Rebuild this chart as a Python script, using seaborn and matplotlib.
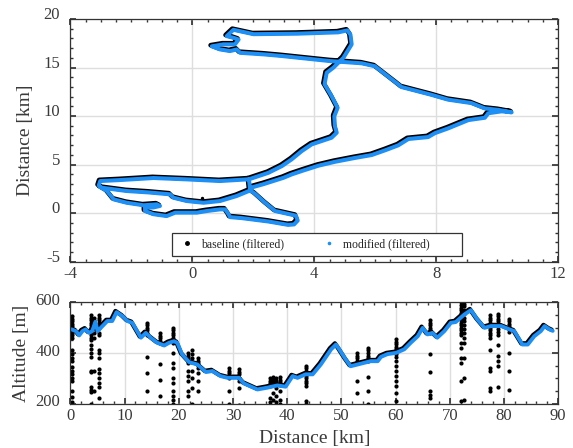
"""
GPS track and altitude profile: baseline vs modified (filtered)
"""
#------------------------------------------------------------------------------
# Libraries
#------------------------------------------------------------------------------

import seaborn as sns
import matplotlib.pyplot as plt
import matplotlib.transforms as mtransforms
from matplotlib.lines import Line2D
from matplotlib.ticker import MultipleLocator

#------------------------------------------------------------------------------
# Data
#------------------------------------------------------------------------------

# track, km east / km north
track_x = [-3.06, -2.84, -2.62, -2.19, -1.64, -1.20, -1.10, -1.31, -1.59, -1.59,
           -1.31, -0.88, -0.60, -0.22, 0.11, 0.44, 0.87, 1.04, 1.15, 1.20,
           1.58, 2.46, 3.11, 3.30, 3.42, 3.36, 2.68, 2.35, 2.02, 1.86,
           1.90, 2.30, 2.62, 2.95, 3.22, 3.60, 4.10, 4.64, 5.30, 5.85,
           6.30, 6.72, 7.05, 7.70, 7.92, 8.36, 9.02, 9.56, 9.67, 10.11,
           10.44, 10.00, 9.56, 9.12, 8.36, 7.81, 6.83, 6.67, 5.95, 5.52,
           4.48, 2.90, 2.30, 1.53, 1.42, 1.20, 0.87, 0.60, 0.98, 1.36,
           1.48, 1.31, 1.09, 1.31, 1.97, 3.39, 4.75, 5.05, 5.15, 5.19,
           4.92, 4.59, 4.37, 4.30, 4.53, 4.73, 4.62, 4.64, 4.70, 4.53,
           3.88, 3.55, 3.22, 2.90, 2.46, 1.82, 1.86, 1.42, 0.87, 0.33,
           -0.22, -0.66, -0.77, -1.50, -2.19, -3.01, -3.11, -3.06, -2.41, -1.31,
           -0.22, 0.87, 1.82]
track_y = [2.80, 2.39, 1.53, 1.18, 0.92, 1.02, 0.85, 0.70, 0.67, 0.33,
           0.00, -0.19, 0.16, 0.16, 0.16, 0.33, 0.50, 0.50, 0.00, -0.30,
           -0.40, -0.75, -1.10, -1.05, -0.65, -0.15, 0.33, 1.18, 2.11, 2.45,
           2.75, 3.10, 3.42, 3.75, 4.10, 4.50, 5.00, 5.40, 5.80, 6.10,
           6.60, 7.10, 7.75, 7.95, 8.35, 8.85, 9.70, 9.94, 10.40, 10.60,
           10.50, 10.75, 10.90, 11.45, 11.80, 12.30, 13.10, 13.50, 15.25, 15.55,
           15.78, 16.30, 16.47, 16.63, 16.98, 16.81, 16.98, 17.30, 17.50, 17.50,
           18.00, 18.18, 18.35, 19.00, 18.55, 18.60, 18.74, 18.94, 18.50, 17.50,
           16.12, 15.10, 14.57, 13.40, 12.17, 10.97, 10.10, 9.08, 8.40, 7.88,
           7.20, 6.50, 5.65, 4.96, 4.27, 3.60, 2.45, 1.88, 1.36, 1.18,
           1.36, 1.70, 2.05, 2.25, 2.39, 2.73, 2.95, 3.42, 3.52, 3.73,
           3.59, 3.42, 3.60]

# stray baseline fix in the track
stray_x = [0.33]
stray_y = [1.53]

# altitude profile
profile_km = [0.0, 0.8, 1.4, 2.0, 2.6, 3.2, 3.8, 4.4, 4.8, 5.7, 6.6, 7.5, 8.3,
              9.4, 10.3, 11.2, 12.8, 13.7, 14.6, 15.8, 17.1, 18.0, 18.9, 19.5,
              20.4, 21.7, 23.2, 24.8, 26.0, 27.5, 28.8, 30.0, 30.9, 31.8, 34.3,
              36.1, 38.0, 39.5, 40.8, 41.7, 43.2, 44.5, 46.0, 47.9, 48.8, 49.4,
              50.6, 51.5, 52.8, 55.2, 56.5, 57.1, 58.3, 59.9, 61.4, 62.6, 63.9,
              64.8, 65.7, 66.6, 67.5, 68.8, 70.0, 70.9, 72.5, 73.7, 74.9, 76.2,
              77.4, 79.3, 80.8, 81.7, 83.2, 84.2, 85.4, 86.6, 87.3, 88.2, 88.8]
profile_alt = [498, 491, 474, 491, 498, 484, 491, 528, 491, 511, 531, 531, 566,
               550, 531, 524, 465, 484, 465, 445, 434, 445, 451, 445,
               399, 368, 359, 329, 333, 313, 306, 306, 306, 284, 260,
               267, 276, 271, 313, 306, 320, 320, 359, 419, 438, 419,
               379, 352, 359, 372, 372, 389, 400, 405, 419, 445, 471,
               504, 478, 484, 465, 491, 524, 527, 557, 574, 537, 504,
               511, 511, 498, 491, 438, 438, 471, 491, 511, 498, 492]

# baseline outliers: vertical streaks (km) and their altitudes (m)
streak_km = [0.3, 3.8, 4.4, 5.3, 14.1, 16.6, 18.9, 21.6, 22.4, 23.5, 29.3,
             31.1, 36.8, 37.4, 38.0, 38.7, 43.4, 52.8, 54.9, 60.0, 66.4,
             72.1, 72.6, 77.5, 78.9, 81.0]
streak_alt = [
    [545, 535, 525, 515, 505, 490, 480, 470, 460, 410, 395, 380, 370, 345,
     330, 315, 300, 290, 250, 225, 205],
    [550, 540, 530, 520, 510, 500, 490, 480, 470, 460, 450, 430, 415, 400,
     385, 330, 325, 265, 255, 245, 200],
    [540, 520, 500, 480, 460, 330, 250],
    [550, 540, 530, 520, 510, 500, 480, 470, 410, 400, 380, 335, 320, 300,
     280, 265, 220],
    [520, 510, 500, 490, 480, 470, 385, 320, 248],
    [478, 468, 458, 448, 440, 355, 295, 228],
    [500, 490, 480, 470, 460, 450, 440, 400, 360, 340, 300, 280, 250, 230,
     215, 200],
    [400, 390, 380, 370, 360, 330, 310, 290, 250, 230],
    [410, 395, 380, 365, 330, 300, 260, 200],
    [380, 370, 360, 340, 320, 290, 250],
    [340, 330, 320, 310, 300, 250, 200],
    [335, 325, 315, 300, 290, 260, 195],
    [300, 290, 280, 270, 220, 205],
    [305, 295, 285, 275, 240, 215],
    [300, 290, 280, 260, 230, 205],
    [305, 295, 285, 275, 250, 215, 200],
    [350, 340, 330, 320, 310, 300, 290, 280, 270, 210, 200],
    [400, 390, 380, 370, 360, 290, 240],
    [420, 410, 400, 390, 380, 370, 305, 250, 200],
    [455, 445, 435, 425, 415, 405, 395, 385, 370, 350, 330, 310, 290, 270,
     240, 210],
    [530, 520, 510, 500, 490, 480, 395, 325, 250, 235, 220],
    [600, 590, 580, 570, 560, 550, 540, 530, 520, 510, 500, 490, 480, 470,
     440, 420, 380, 360, 290, 210],
    [595, 585, 570, 555, 540, 525, 510, 495, 480, 460, 440, 380, 300, 215],
    [550, 540, 530, 520, 510, 500, 490, 480, 470, 460, 410, 340, 330, 260,
     250],
    [555, 545, 535, 525, 515, 505, 495, 485, 470, 430, 390, 370, 350, 265],
    [535, 525, 515, 505, 495, 485, 400, 330, 255],
]

out_km = [k for k, alts in zip(streak_km, streak_alt) for _ in alts]
out_alt = [a for alts in streak_alt for a in alts]

#------------------------------------------------------------------------------
# Style
#------------------------------------------------------------------------------

blue = '#1e8ff5'
sns.set_theme(style='ticks')
plt.rcParams.update({
    'font.family': ['Liberation Serif', 'DejaVu Serif'],
    'axes.unicode_minus': False,
    'xtick.direction': 'in', 'ytick.direction': 'in',
    'xtick.top': True, 'ytick.right': True,
    'xtick.major.size': 4, 'ytick.major.size': 4,
    'xtick.minor.size': 2.5, 'ytick.minor.size': 2.5,
    'xtick.minor.visible': True, 'ytick.minor.visible': True,
    'axes.edgecolor': '#333333', 'axes.linewidth': 0.9,
    'xtick.color': '#333333', 'ytick.color': '#333333',
    'xtick.labelcolor': '#3a3a3a', 'ytick.labelcolor': '#3a3a3a',
    'axes.labelcolor': '#3a3a3a',
    'xtick.labelsize': 12, 'ytick.labelsize': 12,
    'ytick.major.pad': 7.5,
    'axes.labelsize': 14,
})

fig = plt.figure(figsize=(5.73, 4.48), dpi=100)
ax1 = fig.add_axes([0.123, 0.416, 0.851, 0.5416])
ax2 = fig.add_axes([0.123, 0.0993, 0.851, 0.2255])

shift = mtransforms.ScaledTranslation(0.8 / 72, -0.8 / 72, fig.dpi_scale_trans)

#------------------------------------------------------------------------------
# Track
#------------------------------------------------------------------------------

sns.lineplot(x=track_x, y=track_y, sort=False, estimator=None,
             color='black', lw=3.4, ax=ax1)
sns.lineplot(x=track_x, y=track_y, sort=False, estimator=None,
             color=blue, lw=2.9, ax=ax1)
ax1.lines[-1].set_transform(ax1.transData + shift)
sns.scatterplot(x=stray_x, y=stray_y, color='black', s=6, linewidth=0, ax=ax1)

ax1.set(xlim=(-4, 12), ylim=(-5, 20), ylabel='Distance [km]')
ax1.xaxis.set_major_locator(MultipleLocator(4))
ax1.xaxis.set_minor_locator(MultipleLocator(0.5))
ax1.yaxis.set_major_locator(MultipleLocator(5))
ax1.yaxis.set_minor_locator(MultipleLocator(1))

handles = [Line2D([], [], ls='', marker='o', ms=2.5, color='black'),
           Line2D([], [], ls='', marker='o', ms=1.6, color=blue)]
leg = ax1.legend(handles, ['baseline (filtered)', 'modified (filtered)' + ' ' * 9],
                 ncol=2, loc='lower left', bbox_to_anchor=(0.2076, 0.0235),
                 borderaxespad=0, fontsize=8.5, frameon=True, fancybox=False,
                 edgecolor='#333333', framealpha=1, borderpad=0.45,
                 handlelength=1.64, handletextpad=0.36, columnspacing=3.05)
leg.get_frame().set_linewidth(0.9)

#------------------------------------------------------------------------------
# Altitude profile
#------------------------------------------------------------------------------

sns.lineplot(x=profile_km, y=profile_alt, sort=False, estimator=None,
             color='black', lw=3.2, ax=ax2)
sns.scatterplot(x=out_km, y=out_alt, color='black', s=9, linewidth=0, ax=ax2)
sns.lineplot(x=profile_km, y=profile_alt, sort=False, estimator=None,
             color=blue, lw=2.8, ax=ax2)
ax2.lines[-1].set_transform(ax2.transData + shift)

ax2.set(xlim=(0, 90), ylim=(200, 600), xlabel='Distance [km]',
        ylabel='Altitude [m]')
ax2.xaxis.set_major_locator(MultipleLocator(10))
ax2.xaxis.set_minor_locator(MultipleLocator(2))
ax2.yaxis.set_major_locator(MultipleLocator(200))
ax2.yaxis.set_minor_locator(MultipleLocator(50))

for ax, up in ((ax1, 4.3), (ax2, 2.5)):
    ax.grid(True, which='major', color='#dedede', lw=1)
    ax.set_axisbelow(True)
    ax.tick_params(which='both', top=True, right=True)
    lift = mtransforms.ScaledTranslation(0, up / 72, fig.dpi_scale_trans)
    for lab in ax.get_yticklabels():
        lab.set_transform(lab.get_transform() + lift)

ax1.yaxis.set_label_coords(-0.075, 0.5)
ax2.yaxis.set_label_coords(-0.083, 0.5)

fig.savefig('out.png', dpi=100)
